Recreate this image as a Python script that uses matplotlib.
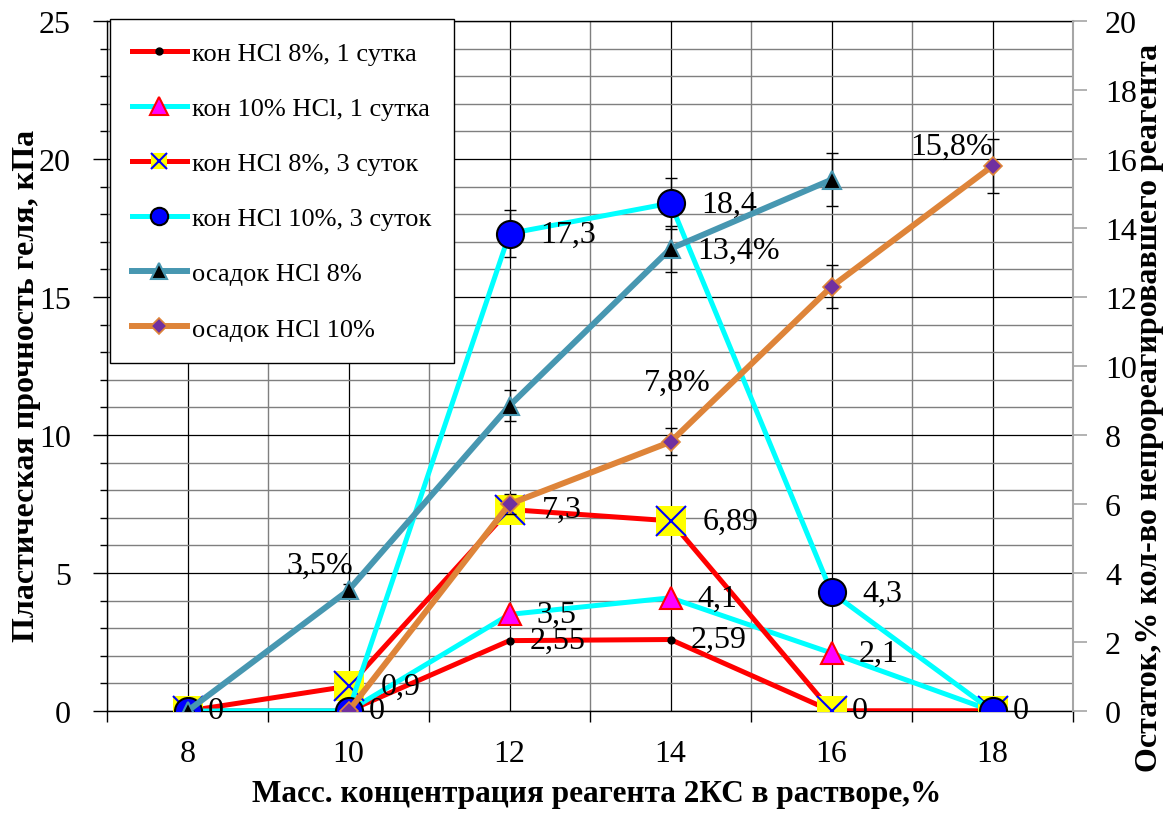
import numpy as np
import matplotlib
matplotlib.use('Agg')
import matplotlib.pyplot as plt
from matplotlib.lines import Line2D
from matplotlib.ticker import MultipleLocator

plt.rcParams['font.family'] = ['Liberation Serif', 'DejaVu Serif']

# reagent concentration, %
conc = [8, 10, 12, 14, 16, 18]

# plastic strength of the gel, kPa (left axis)
hcl8_1day = [0, 0, 2.55, 2.59, 0, 0]
hcl10_1day = [0, 0, 3.5, 4.1, 2.1, 0]
hcl8_3days = [0, 0.9, 7.3, 6.89, 0, 0]
hcl10_3days = [0, 0, 17.3, 18.4, 4.3, 0]

# residue of unreacted reagent, % (right axis)
sed_hcl8 = [0, 3.5, 8.85, 13.4, 15.4, np.nan]
sed_hcl10 = [np.nan, 0, 6.0, 7.8, 12.3, 15.8]

# 5% error bars
err_frac = 0.05

W, H = 1174, 820
RED = '#ff0000'
CYAN = '#00ffff'
TEAL = '#4797b1'
ORANGE = '#de8439'
PURPLE = '#7030a0'


def fmt(v):
    return f"{v:g}".replace('.', ',')


def px(x, y):
    return x / W, 1 - y / H


fig = plt.figure(figsize=(W / 100, H / 100), dpi=100)
ax = fig.add_axes([107 / W, 1 - 712 / H, (1073 - 107) / W, (712 - 22) / H])
ax2 = ax.twinx()

ax.set_xlim(7, 19)
ax.set_ylim(0, 25)
ax2.set_ylim(0, 20)

# grid
ax.set_axisbelow(True)
ax.set_xticks(conc)
ax.set_xticks(np.arange(7, 20, 2), minor=True)
ax.yaxis.set_major_locator(MultipleLocator(5))
ax.yaxis.set_minor_locator(MultipleLocator(1))
ax.grid(which='major', color='black', lw=0.9)
ax.grid(which='minor', color='#7f7f7f', lw=1.0)
ax2.yaxis.set_major_locator(MultipleLocator(2))

ax.tick_params(axis='x', which='major', length=0, labelsize=23, pad=20)
ax.tick_params(axis='x', which='minor', length=8, width=1, direction='out')
ax.tick_params(axis='y', which='major', length=10, width=1, direction='out',
               labelsize=23, pad=16)
ax.tick_params(axis='y', which='minor', length=5, width=1, direction='out')
ax2.tick_params(axis='y', length=10, width=1.2, color='#a6a6a6',
                labelsize=23, pad=13)

for s in ['left', 'bottom', 'top']:
    ax.spines[s].set_color('black')
    ax.spines[s].set_linewidth(1)
ax.spines['right'].set_visible(False)
for s in ['left', 'bottom', 'top']:
    ax2.spines[s].set_visible(False)
ax2.spines['right'].set_color('#a6a6a6')
ax2.spines['right'].set_linewidth(1.5)

# gel strength series
ax.plot(conc, hcl8_1day, color=RED, lw=3.6, marker='o', ms=5,
        mfc='black', mec='black', zorder=3)
ax.plot(conc, hcl10_1day, color=CYAN, lw=3.6, marker='^', ms=16,
        mfc='#ff00ff', mec=RED, mew=1.5, zorder=3)
ax.plot(conc, hcl8_3days, color=RED, lw=3.6, marker='s', ms=21,
        mfc='yellow', mec='yellow', mew=0, zorder=3)
ax.plot(conc, hcl8_3days, ls='none', marker='x', ms=21, mec='#0000ff',
        mew=1.5, zorder=3.1)
ax.errorbar(conc, hcl10_3days, yerr=np.array(hcl10_3days) * err_frac,
            fmt='none', ecolor='black', elinewidth=1, capsize=4.5,
            capthick=1, zorder=3.2)
ax.plot(conc, hcl10_3days, color=CYAN, lw=3.6, marker='o', ms=19.5,
        mfc='#0000ff', mec='black', mew=1.5, zorder=3.3)

# residue series
ax2.errorbar(conc, sed_hcl8, yerr=np.array(sed_hcl8) * err_frac,
             fmt='none', ecolor='black', elinewidth=1, capsize=4.5,
             capthick=1, zorder=3)
ax2.plot(conc, sed_hcl8, color=TEAL, lw=4.3, marker='^', ms=13,
         mfc='black', mec=TEAL, mew=1.5, zorder=3.1)
ax2.errorbar(conc, sed_hcl10, yerr=np.array(sed_hcl10) * err_frac,
             fmt='none', ecolor='black', elinewidth=1, capsize=4.5,
             capthick=1, zorder=3)
ax2.plot(conc, sed_hcl10, color=ORANGE, lw=4.3, marker='D', ms=9,
         mfc=PURPLE, mec=ORANGE, mew=1.2, zorder=3.1)

# value labels to the right of the points
lbl = dict(fontsize=23, va='center', ha='left', textcoords='offset pixels',
           zorder=5)
for x, v in zip(conc, hcl8_1day):
    ax.annotate(fmt(v), (x, v), xytext=(20, 0), **lbl)
for x, v in zip(conc, hcl10_1day):
    if v:
        ax.annotate(fmt(v), (x, v), xytext=(27, 0), **lbl)
for x, v in zip(conc, hcl8_3days):
    if v:
        ax.annotate(fmt(v), (x, v), xytext=(32, 0), **lbl)
for x, v in zip(conc, hcl10_3days):
    if v:
        ax.annotate(fmt(v), (x, v), xytext=(31, -1), **lbl)

pct = dict(fontsize=23, va='center', textcoords='offset pixels', zorder=5)
ax2.annotate(fmt(sed_hcl8[1]) + '%', (conc[1], sed_hcl8[1]),
             xytext=(5, 25), ha='right', **pct)
ax2.annotate(fmt(sed_hcl8[3]) + '%', (conc[3], sed_hcl8[3]),
             xytext=(27, -2), ha='left', **pct)
ax2.annotate(fmt(sed_hcl10[3]) + '%', (conc[3], sed_hcl10[3]),
             xytext=(7, 60), ha='center', **pct)
ax2.annotate(fmt(sed_hcl10[5]) + '%', (conc[5], sed_hcl10[5]),
             xytext=(0, 20), ha='right', **pct)

# axis titles
fig.text(*px(27, 386), 'Пластическая прочность геля, кПа', rotation=90,
         ha='center', va='center', fontsize=23, fontweight='bold')
fig.text(*px(1150, 408), 'Остаток,% кол-во непрореагировавшего реагента',
         rotation=90, ha='center', va='center', fontsize=23,
         fontweight='bold')
fig.text(*px(597, 795), 'Масс. концентрация реагента 2КС в растворе,%',
         ha='center', va='center', fontsize=22.5, fontweight='bold')

# legend
h1 = Line2D([], [], color=RED, lw=3.6, marker='o', ms=5, mfc='black',
            mec='black')
h2 = Line2D([], [], color=CYAN, lw=3.6, marker='^', ms=13, mfc='#ff00ff',
            mec=RED, mew=1.5)
h3a = Line2D([], [], color=RED, lw=3.6, marker='s', ms=11.5, mfc='yellow',
             mec='yellow', mew=0)
h3b = Line2D([], [], ls='none', marker='x', ms=11.5, mec='#0000ff', mew=1.5)
h4 = Line2D([], [], color=CYAN, lw=3.6, marker='o', ms=12.5, mfc='#0000ff',
            mec='black', mew=1.5)
h5 = Line2D([], [], color=TEAL, lw=4.3, marker='^', ms=11, mfc='black',
            mec=TEAL, mew=1.5)
h6 = Line2D([], [], color=ORANGE, lw=4.3, marker='D', ms=8, mfc=PURPLE,
            mec=ORANGE, mew=1.2)
leg = ax2.legend([h1, h2, (h3a, h3b), h4, h5, h6],
                 ['кон HCl 8%, 1 сутка', 'кон 10% HCl, 1 сутка',
                  'кон HCl 8%, 3 суток', 'кон HCl 10%, 3 суток',
                  'осадок HCl 8%', 'осадок HCl 10%'],
                 loc='upper left', bbox_to_anchor=px(110, 20),
                 bbox_transform=fig.transFigure, borderaxespad=0,
                 fontsize=19, frameon=True, fancybox=False, framealpha=1,
                 edgecolor='black', handlelength=2.05, handletextpad=0.2,
                 labelspacing=1.2, borderpad=0.85, numpoints=1)
leg.get_frame().set_linewidth(1)
leg.set_zorder(10)

fig.savefig('out.png', dpi=100)
